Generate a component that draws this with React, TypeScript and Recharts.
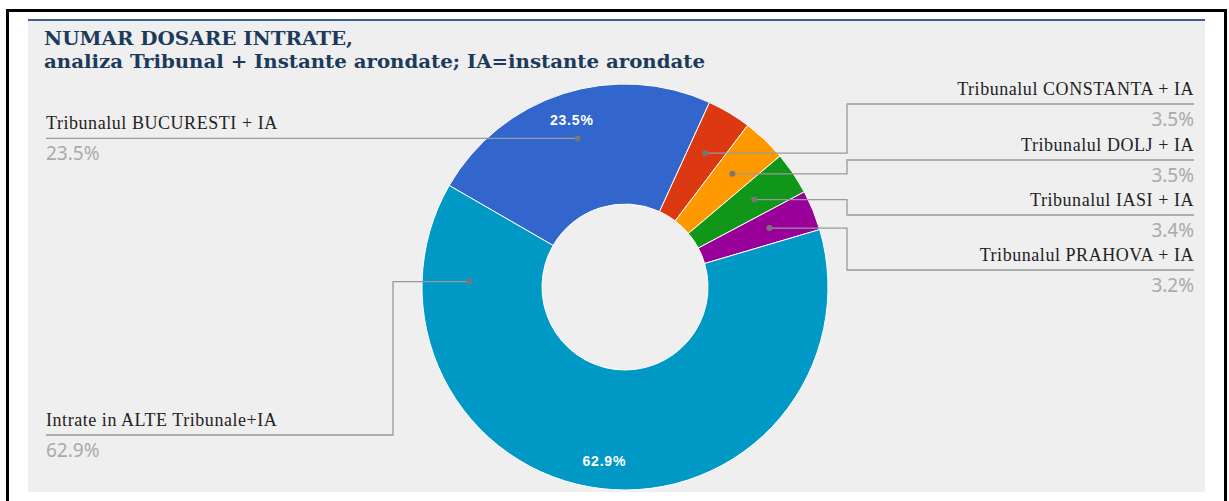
import { PieChart, Pie, Cell } from "recharts";

// share of incoming cases, per tribunal group
const categories = [
  "Tribunalul BUCURESTI + IA",
  "Tribunalul CONSTANTA + IA",
  "Tribunalul DOLJ + IA",
  "Tribunalul IASI + IA",
  "Tribunalul PRAHOVA + IA",
  "Intrate in ALTE Tribunale+IA",
];
const shares = [23.5, 3.5, 3.5, 3.4, 3.2, 62.9];
const sliceColors = ["#3366cc", "#dc3912", "#ff9900", "#109618", "#990099", "#0099c6"];
const insideLabels = [true, false, false, false, false, true];

const titleLines = [
  "NUMAR DOSARE INTRATE,",
  "analiza Tribunal + Instante arondate; IA=instante arondate",
];
const titleWidths = [309, 661];

const chartData = categories.map((name, i) => ({ name, value: shares[i] }));

// where each callout goes (same order as categories)
const calloutLayout = [
  { side: "left", lineY: null, elbowX: null, anchorAngle: null },
  { side: "right", lineY: 104, elbowX: 847, anchorAngle: null },
  { side: "right", lineY: 160, elbowX: 847, anchorAngle: null },
  { side: "right", lineY: 215, elbowX: 847, anchorAngle: null },
  { side: "right", lineY: 270, elbowX: 847, anchorAngle: null },
  { side: "left", lineY: 435, elbowX: 393, anchorAngle: 178 },
];

const RAD = Math.PI / 180;
const LEFT_X = 46;
const RIGHT_X = 1194;

function renderLabel(props: any) {
  const { cx, cy, midAngle, index, percent, name } = props;
  const lay = calloutLayout[index];
  const pct = (percent * 100).toFixed(1) + "%";

  const ang = (lay.anchorAngle ?? midAngle) * RAD;
  const px = cx + 156 * Math.cos(-ang);
  const py = cy + 156 * Math.sin(-ang);
  const lineY = lay.lineY ?? py;
  const endX = lay.side === "left" ? LEFT_X : RIGHT_X;

  const pts = lay.elbowX
    ? [[px, py], [lay.elbowX, py], [lay.elbowX, lineY], [endX, lineY]]
    : [[px, py], [endX, py]];

  const inR = 175;
  const ix = cx + inR * Math.cos(-midAngle * RAD);
  const iy = cy + inR * Math.sin(-midAngle * RAD);

  return (
    <g key={`lbl-${index}`}>
      <polyline
        points={pts.map((p) => p.join(",")).join(" ")}
        fill="none"
        stroke="#999"
        strokeWidth={1.3}
      />
      <circle cx={px} cy={py} r={3} fill="#777" />
      <text
        x={endX}
        y={lineY - 9}
        textAnchor={lay.side === "left" ? "start" : "end"}
        fontFamily="'Liberation Serif', serif"
        fontSize={18}
        letterSpacing={0.55}
        fill="#222"
      >
        {name}
      </text>
      <text
        x={endX}
        y={lineY + 22}
        textAnchor={lay.side === "left" ? "start" : "end"}
        fontFamily="'Noto Sans', sans-serif"
        fontSize={19}
        fill="#aaa"
      >
        {pct}
      </text>
      {insideLabels[index] && (
        <text
          x={ix}
          y={iy}
          textAnchor="middle"
          dominantBaseline="central"
          fontFamily="'Liberation Sans', Arial, sans-serif"
          fontWeight="bold"
          fontSize={14}
          letterSpacing={0.8}
          fill="#fff"
        >
          {pct}
        </text>
      )}
    </g>
  );
}

export default function App() {
  return (
    <div style={{ position: "absolute", left: 0, top: 0, width: 1229, height: 501, background: "#fff", overflow: "hidden" }}>
      {/* outer frame */}
      <div
        style={{
          position: "absolute",
          left: 6,
          top: 9,
          width: 1221,
          height: 540,
          border: "3px solid #000",
          boxSizing: "border-box",
        }}
      />
      {/* grey panel with blue top rule */}
      <div
        style={{
          position: "absolute",
          left: 28,
          top: 19,
          width: 1177,
          height: 473,
          background: "#efefef",
          borderTop: "2px solid #3d5f8d",
          boxSizing: "border-box",
        }}
      />
      <svg width={1229} height={501} style={{ position: "absolute", left: 0, top: 0 }}>
        {titleLines.map((t, i) => (
          <text
            key={t}
            x={44}
            y={45 + i * 23}
            fontFamily="'DejaVu Serif Condensed', 'DejaVu Serif', serif"
            fontWeight="bold"
            fontSize={19}
            textLength={titleWidths[i]}
            lengthAdjust="spacingAndGlyphs"
            fill="#1c3b5c"
          >
            {t}
          </text>
        ))}
      </svg>
      <div style={{ position: "absolute", left: 0, top: 0 }}>
        <PieChart width={1229} height={501}>
          <Pie
            data={chartData}
            dataKey="value"
            nameKey="name"
            cx={620}
            cy={282}
            innerRadius={83}
            outerRadius={203}
            startAngle={150}
            endAngle={-210}
            stroke="#fff"
            strokeWidth={1}
            label={renderLabel}
            labelLine={false}
            isAnimationActive={false}
          >
            {chartData.map((d, i) => (
              <Cell key={d.name} fill={sliceColors[i]} />
            ))}
          </Pie>
        </PieChart>
      </div>
    </div>
  );
}
